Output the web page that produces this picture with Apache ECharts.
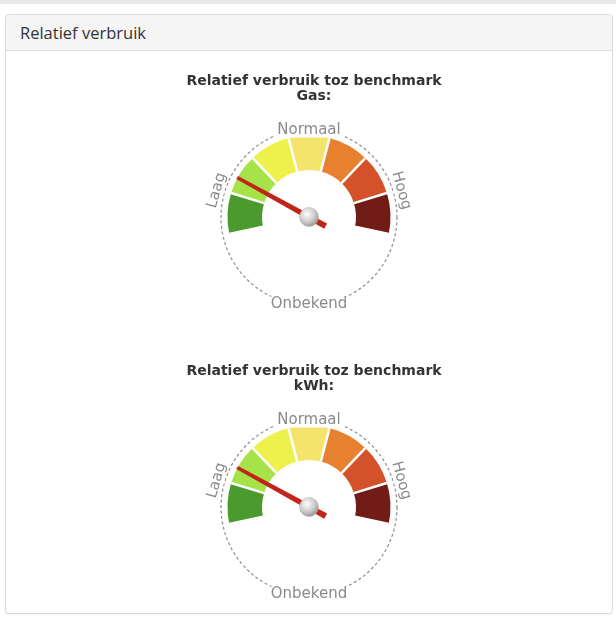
<!DOCTYPE html>
<html>
<head>
<meta charset="utf-8">
<script src="https://cdn.jsdelivr.net/npm/echarts@6/dist/echarts.min.js"></script>
<style>
  html, body { margin:0; padding:0; width:616px; height:620px; background:#fff; overflow:hidden; }
  #topband { position:absolute; left:0; top:0; width:616px; height:4px; background:#e9e9e9; }
  #panel { position:absolute; left:5px; top:14px; width:606px; height:598px; border:1px solid #dcdcdc; border-radius:4px; box-shadow:0 1px 2px rgba(0,0,0,0.06); background:#fff; }
  #panelhead { background:#f5f5f5; border-bottom:1px solid #dcdcdc; border-radius:4px 4px 0 0;
    font-family:"Open Sans", "Liberation Sans", Arial, sans-serif; font-size:16.5px; color:#333; line-height:35px; padding-left:14px; box-sizing:border-box; height:36px; }
  #chart { position:absolute; left:0; top:0; width:616px; height:620px; }
</style>
</head>
<body>
<div id="topband"></div>
<div id="panel"><div id="panelhead">Relatief verbruik</div></div>
<div id="chart"></div>
<script>
// ---- data ----
const gaugeTitles = ['Relatief verbruik toz benchmark\nGas:', 'Relatief verbruik toz benchmark\nkWh:'];
const gaugeValues = [20, 20];
const bandColors = ['#4a9a2e', '#a6e349', '#eef04c', '#f4e46c', '#e8812f', '#d4522a', '#711c16'];
const ringLabels = ['Laag', 'Normaal', 'Hoog', 'Onbekend'];
const ringLabelTicks = [0, 37, 74, 127];

// ---- layout ----
const centers = [[309, 217], [309, 507]];
const titleTops = [69, 359];
const R = 81.5, W = 34.5, RING = 88;
const RING_START = 164, RING_STEPS = 180;  // 2 degrees per step, full circle

const chart = echarts.init(document.getElementById('chart'), null, { renderer: 'canvas' });

const bandStops = bandColors.map((c, i) => [(i + 1) / bandColors.length, c]);

const series = [];
const polar = [], angleAxis = [], radiusAxis = [], title = [];
centers.forEach((c, gi) => {
  title.push({
    text: gaugeTitles[gi], left: c[0], top: titleTops[gi], textAlign: 'center',
    textStyle: { fontFamily: 'DejaVu Sans', fontWeight: 'bold', fontSize: 14, color: '#333', lineHeight: 15 }
  });
  polar.push({ center: c, radius: RING });
  angleAxis.push({
    polarIndex: gi, startAngle: 90, min: 0, max: 360,
    axisLine: { lineStyle: { type: [3, 2.5], color: '#949494', width: 1.3 } },
    axisTick: { show: false }, axisLabel: { show: false }, splitLine: { show: false }
  });
  radiusAxis.push({ polarIndex: gi, show: false, axisLine: { show: false } });

  // coloured bands + needle
  series.push({
    type: 'gauge', center: c, radius: R, startAngle: 192, endAngle: -12,
    min: 0, max: 100, splitNumber: bandColors.length,
    axisLine: { lineStyle: { width: W, color: bandStops } },
    splitLine: { show: true, length: W, distance: -W, lineStyle: { color: '#fff', width: 2.5 } },
    axisTick: { show: false }, axisLabel: { show: false },
    pointer: {
      icon: 'path://M1.2,0 L4.8,0 L6,100 L0,100 Z', keepAspect: false,
      length: 101, width: 6, offsetCenter: [0, 19],
      itemStyle: { color: '#c1241b' }
    },
    anchor: {
      show: true, showAbove: true, size: 19,
      itemStyle: {
        color: { type: 'radial', x: 0.4, y: 0.35, r: 0.7, colorStops: [{ offset: 0, color: '#ffffff' }, { offset: 0.6, color: '#c8c8c8' }, { offset: 1, color: '#8d8d8d' }] },
        borderColor: '#b0b0b0', borderWidth: 0.5
      }
    },
    title: { show: false }, detail: { show: false },
    data: [{ value: gaugeValues[gi] }]
  });

  // ring labels, one series per label so each gets its own tangential rotation
  ringLabels.forEach((name, li) => {
    const tick = ringLabelTicks[li];
    const ang = RING_START - tick * 360 / RING_STEPS;
    let rot = ang - 90;
    if (rot < -90) rot += 180;
    series.push({
      type: 'gauge', center: c, radius: RING, startAngle: RING_START, endAngle: RING_START - 360,
      min: 0, max: RING_STEPS, splitNumber: RING_STEPS,
      axisLine: { show: false, lineStyle: { width: 0 } },
      splitLine: { show: false, length: 0, distance: 0 }, axisTick: { show: false, length: 0, distance: 0 },
      pointer: { show: false }, anchor: { show: false },
      title: { show: false }, detail: { show: false }, data: [], silent: true,
      axisLabel: {
        show: true, distance: -8, rotate: rot, align: 'center', verticalAlign: 'middle',
        color: '#8a8a8a', fontSize: 15, fontFamily: 'DejaVu Sans', lineHeight: 18,
        rich: { b: { color: '#8a8a8a', fontSize: 15, fontFamily: 'DejaVu Sans', lineHeight: 18, backgroundColor: '#fff', padding: [0, 3] } },
        formatter: function (v) { return Math.round(v) === tick ? '{b|' + name + '}' : ''; }
      }
    });
  });
});

chart.setOption({ animation: false, title, polar, angleAxis, radiusAxis, series });
</script>
</body>
</html>
